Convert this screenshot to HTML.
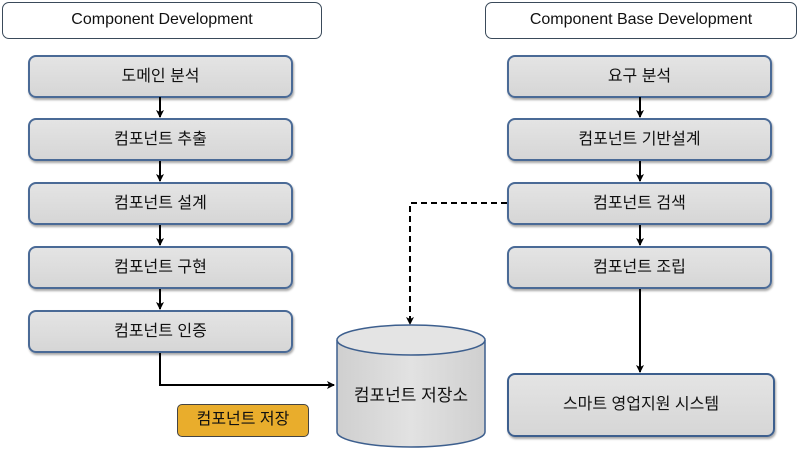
<!DOCTYPE html>
<html><head><meta charset="utf-8"><style>
body{margin:0;width:800px;height:468px;background:#fff;position:relative;overflow:hidden;font-family:"Liberation Sans","Noto Sans CJK KR",sans-serif;color:#111}
.h{position:absolute;border:1.5px solid #3a4a5a;border-radius:7px;background:#fff;text-align:center;font-size:16px;line-height:34px;box-sizing:border-box;height:37px}
.b{position:absolute;width:265px;height:43px;border:2px solid #4a6a96;border-radius:8px;background:linear-gradient(#e4e4e4,#d6d6d6);box-sizing:border-box;text-align:center;line-height:39px;font-size:16px;box-shadow:1px 2px 2px rgba(0,0,0,.35)}
</style></head><body>
<div class="h" style="left:2px;top:2px;width:320px">Component Development</div>
<div class="h" style="left:485px;top:2px;width:312px">Component Base Development</div>
<div class="b" style="left:28px;top:55px">도메인 분석</div>
<div class="b" style="left:28px;top:118px">컴포넌트 추출</div>
<div class="b" style="left:28px;top:182px">컴포넌트 설계</div>
<div class="b" style="left:28px;top:246px">컴포넌트 구현</div>
<div class="b" style="left:28px;top:310px">컴포넌트 인증</div>
<div class="b" style="left:507px;top:55px">요구 분석</div>
<div class="b" style="left:507px;top:118px">컴포넌트 기반설계</div>
<div class="b" style="left:507px;top:182px">컴포넌트 검색</div>
<div class="b" style="left:507px;top:246px">컴포넌트 조립</div>
<div class="b" style="left:507px;top:373px;width:268px;height:64px;line-height:60px;border-width:2.5px;border-color:#3d5f8e">스마트 영업지원 시스템</div>
<div style="position:absolute;left:177px;top:404px;width:132px;height:33px;background:#e9ad2c;border:1.5px solid #444;border-radius:5px;box-sizing:border-box;text-align:center;line-height:30px;font-size:16px">컴포넌트 저장</div>
<svg width="800" height="468" style="position:absolute;left:0;top:0">
<defs><marker id="a" markerWidth="8" markerHeight="8" refX="7" refY="4" orient="auto" markerUnits="userSpaceOnUse"><path d="M0,0 L8,4 L0,8 L2,4z" fill="#000"/></marker>
<linearGradient id="g" x1="0" x2="1"><stop offset="0" stop-color="#cfcfcf"/><stop offset=".5" stop-color="#e2e2e2"/><stop offset="1" stop-color="#cfcfcf"/></linearGradient></defs>
<g stroke="#000" stroke-width="2" fill="none" marker-end="url(#a)">
<line x1="160" y1="97" x2="160" y2="117"/><line x1="160" y1="161" x2="160" y2="181"/><line x1="160" y1="225" x2="160" y2="245"/><line x1="160" y1="289" x2="160" y2="309"/>
<line x1="640" y1="97" x2="640" y2="117"/><line x1="640" y1="161" x2="640" y2="181"/><line x1="640" y1="225" x2="640" y2="245"/>
<line x1="640" y1="289" x2="640" y2="372"/>
<polyline points="160,353 160,385 334,385"/>
<polyline points="507,203 410,203 410,324" stroke-dasharray="6,4"/>
</g>
<path d="M337,340 L337,432 A74,15 0 0 0 485,432 L485,340" fill="url(#g)" stroke="#3d5f8e" stroke-width="1.5"/>
<ellipse cx="411" cy="340" rx="74" ry="15" fill="#e4e4e4" stroke="#3d5f8e" stroke-width="1.5"/>
<text x="411" y="401" text-anchor="middle" font-size="17" font-family="Liberation Sans, Noto Sans CJK KR, sans-serif" fill="#111">컴포넌트 저장소</text>
</svg>
</body></html>
